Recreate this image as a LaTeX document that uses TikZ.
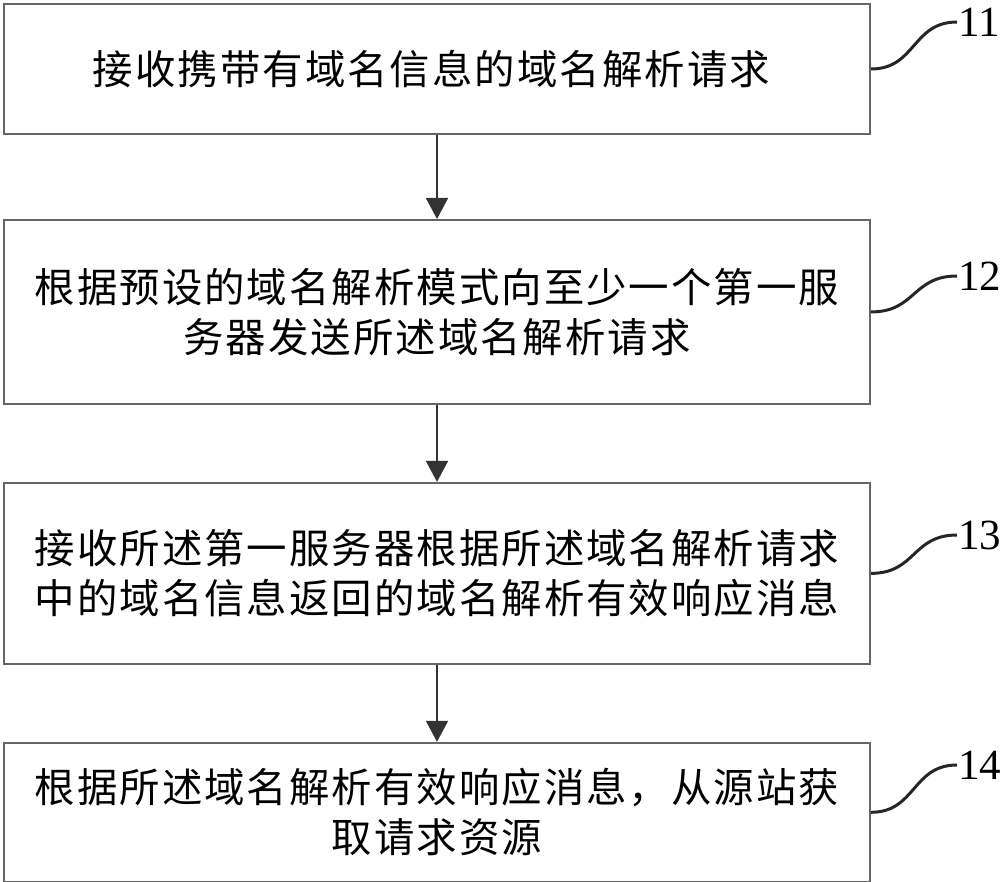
\documentclass[tikz,border=0pt]{standalone}
\usepackage{fontspec}
\setmainfont{Liberation Serif}
\newfontfamily\cjk[LetterSpace=5]{Noto Sans CJK SC}
\usepackage{tikz}
\usetikzlibrary{arrows.meta}
\usetikzlibrary{positioning}
\tikzset{
    stepbox/.style={
           rectangle,
           draw=black!60, line width=1.1pt,
           minimum width=17.32cm,
           inner sep=2pt,
           align=center,
           font=\cjk\fontsize{23pt}{28.5pt}\selectfont,
           },
    flow/.style={
           draw=black!80,
           line width=1pt,
           },
    lead/.style={
           -,
           draw=black!85,
           line width=1.7pt,
           },
    tag/.style={
           anchor=west,
           inner sep=0.5pt,
           font=\fontsize{24.5pt}{28pt}\selectfont,
    }
}

\begin{document}
\begin{tikzpicture}
[
->,>={Triangle[width=0.44cm,length=0.42cm]}
]
 \useasboundingbox (0,0) rectangle (20,-17.64);

 % Step 11: receive the request
 \node[stepbox,
 minimum height=2.6cm] (RECV) at (8.74,-1.38)
 {%
接收携带有域名信息的域名解析请求
 };

 % Step 12: forward to the first servers
 \node[stepbox,
 minimum height=3.68cm,
 below=1.68cm of RECV] (SEND)
 {%
根据预设的域名解析模式向至少一个第一服\\务器发送所述域名解析请求
 };

 % Step 13: valid response
 \node[stepbox,
 minimum height=3.62cm,
 below=1.54cm of SEND] (RESP)
 {%
接收所述第一服务器根据所述域名解析请求\\中的域名信息返回的域名解析有效响应消息
 };

 % Step 14: fetch from origin
 \node[stepbox,
 minimum height=2.78cm,
 below=1.54cm of RESP] (FETCH)
 {%
根据所述域名解析有效响应消息，从源站获\\取请求资源
 };

 % draw the flow between the steps
 \path
 (RECV) edge[flow] (SEND)
 (SEND) edge[flow] (RESP)
 (RESP) edge[flow] (FETCH)
 ;

 % step numbers
 \node[tag] (N11) at (19.14,-0.44) {11};
 \node[tag] (N12) at (19.14,-5.52) {12};
 \node[tag] (N13) at (19.14,-10.7) {13};
 \node[tag] (N14) at (19.14,-15.3) {14};

 \draw[lead] (RECV.east) .. controls +(0.9,0) and +(-0.9,0) .. (N11.west);
 \draw[lead] (SEND.east) .. controls +(0.9,0) and +(-0.9,0) .. (N12.west);
 \draw[lead] (RESP.east) .. controls +(0.9,0) and +(-0.9,0) .. (N13.west);
 \draw[lead] (FETCH.east) .. controls +(0.9,0) and +(-0.9,0) .. (N14.west);

\end{tikzpicture}
\end{document}
